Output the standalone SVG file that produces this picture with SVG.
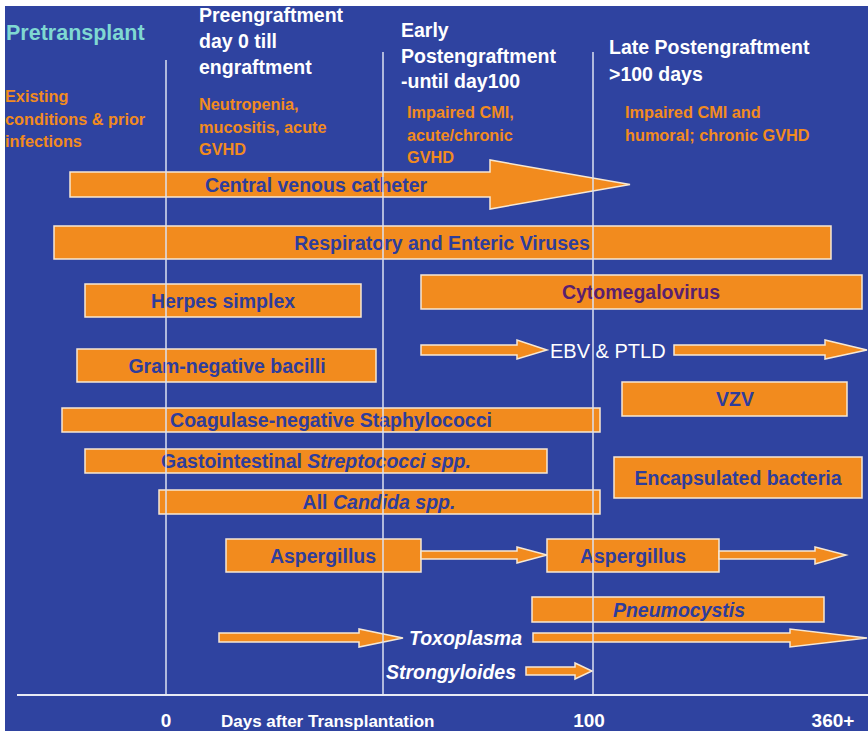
<svg xmlns="http://www.w3.org/2000/svg" width="868" height="731" viewBox="0 0 868 731">
<style>
text{font-family:"Liberation Sans",Arial,sans-serif;font-weight:bold}
.hdr{fill:#ffffff;font-size:19.5px}
.sub{fill:#F28B1E;font-size:16.3px}
.pre{fill:#7FD8D2;font-size:21.5px}
.bar{fill:#F28B1E;stroke:#F7E8D2;stroke-width:1.5}
.lbl{fill:#2E3D9C;font-size:19.5px;text-anchor:middle}
.wl{fill:#ffffff;font-size:19.5px;font-style:italic}
.ax{fill:#ffffff;font-size:19px;text-anchor:middle}
.grid{stroke:#DCE0F0;stroke-width:1.5;fill:none}
.it{font-style:italic}
</style>
<rect x="0" y="0" width="868" height="731" fill="#ffffff"/>
<rect x="5" y="6" width="863" height="725" fill="#2F43A0"/>

<g id="headers">
<text class="pre" x="6" y="40">Pretransplant</text>
<text class="sub" x="5" y="102">Existing</text>
<text class="sub" x="5" y="124.5">conditions &amp; prior</text>
<text class="sub" x="5" y="147">infections</text>
<text class="hdr" x="199" y="22">Preengraftment</text>
<text class="hdr" x="199" y="48">day 0 till</text>
<text class="hdr" x="199" y="74">engraftment</text>
<text class="sub" x="199" y="110">Neutropenia,</text>
<text class="sub" x="199" y="132.5">mucositis, acute</text>
<text class="sub" x="199" y="155">GVHD</text>
<text class="hdr" x="401" y="37">Early</text>
<text class="hdr" x="401" y="62.5">Postengraftment</text>
<text class="hdr" x="401" y="88">-until day100</text>
<text class="sub" x="407" y="118">Impaired CMI,</text>
<text class="sub" x="407" y="140.5">acute/chronic</text>
<text class="sub" x="407" y="163">GVHD</text>
<text class="hdr" x="609" y="54">Late Postengraftment</text>
<text class="hdr" x="609" y="81">&gt;100 days</text>
<text class="sub" x="625" y="118">Impaired CMI and</text>
<text class="sub" x="625" y="141">humoral; chronic GVHD</text>
</g>

<g id="cvc">
<polygon class="bar" points="70,172 490,172 490,160 630,184.5 490,209 490,197 70,197"/>
<text class="lbl" x="316" y="192">Central venous catheter</text>
</g>
<g id="resp">
<rect class="bar" x="54" y="226" width="777" height="33"/>
<text class="lbl" x="442" y="250">Respiratory and Enteric Viruses</text>
</g>
<g id="hsv">
<rect class="bar" x="85" y="284" width="276" height="33"/>
<text class="lbl" x="223" y="307.5">Herpes simplex</text>
</g>
<g id="cmv">
<rect class="bar" x="421" y="275" width="441" height="34"/>
<text class="lbl" x="641" y="299" style="fill:#5A1F6E">Cytomegalovirus</text>
</g>
<g id="ebv">
<polygon class="bar" points="421,345 517,345 517,340 547,350 517,359 517,355 421,355"/>
<text x="550" y="358" style="fill:#ffffff;font-size:20px;font-weight:normal">EBV &amp; PTLD</text>
<polygon class="bar" points="674,345 825,345 825,340 867,350 825,359 825,355 674,355"/>
</g>
<g id="gnb">
<rect class="bar" x="77" y="349" width="299" height="33"/>
<text class="lbl" x="227" y="373">Gram-negative bacilli</text>
</g>
<g id="vzv">
<rect class="bar" x="622" y="382" width="225" height="34"/>
<text class="lbl" x="735" y="406">VZV</text>
</g>
<g id="cons">
<rect class="bar" x="62" y="408" width="538" height="24"/>
<text class="lbl" x="331" y="427">Coagulase-negative Staphylococci</text>
</g>
<g id="strep">
<rect class="bar" x="85" y="449" width="462" height="24"/>
<text class="lbl" x="316" y="468">Gastointestinal <tspan class="it">Streptococci spp.</tspan></text>
</g>
<g id="encap">
<rect class="bar" x="614" y="457" width="248" height="41"/>
<text class="lbl" x="738" y="485">Encapsulated bacteria</text>
</g>
<g id="candida">
<rect class="bar" x="159" y="490" width="441" height="24"/>
<text class="lbl" x="379" y="509">All <tspan class="it">Candida spp.</tspan></text>
</g>
<g id="asp">
<rect class="bar" x="226" y="539" width="195" height="33"/>
<text class="lbl" x="323" y="563">Aspergillus</text>
<polygon class="bar" points="421,551 517,551 517,547 547,555 517,563 517,559 421,559"/>
<rect class="bar" x="547" y="539" width="172" height="33"/>
<text class="lbl" x="633" y="563">Aspergillus</text>
<polygon class="bar" points="719,551 815,551 815,547 846,555 815,564 815,559 719,559"/>
</g>
<g id="pcp">
<rect class="bar" x="532" y="597" width="292" height="25"/>
<text class="lbl" x="679" y="616.5" font-style="italic">Pneumocystis</text>
</g>
<g id="toxo">
<polygon class="bar" points="219,633 359,633 359,629 403,638 359,647 359,642 219,642"/>
<text class="wl" x="409" y="645">Toxoplasma</text>
<polygon class="bar" points="533,633 790,633 790,629 867,638 790,647 790,642 533,642"/>
</g>
<g id="strongy">
<text class="wl" x="386" y="679">Strongyloides</text>
<polygon class="bar" points="526,667 575,667 575,663 592,671 575,679 575,675 526,675"/>
</g>

<g id="connectors">
<line class="grid" x1="166" y1="60" x2="166" y2="695"/>
<line class="grid" x1="383" y1="52" x2="383" y2="695"/>
<line class="grid" x1="593" y1="52" x2="593" y2="695"/>
<line x1="17" y1="695" x2="868" y2="695" stroke="#E8EAF4" stroke-width="2"/>
</g>

<g id="axis">
<text class="ax" x="166" y="727">0</text>
<text x="221" y="727" style="fill:#ffffff;font-size:17px">Days after Transplantation</text>
<text class="ax" x="589" y="727">100</text>
<text class="ax" x="833" y="727">360+</text>
</g>
</svg>
